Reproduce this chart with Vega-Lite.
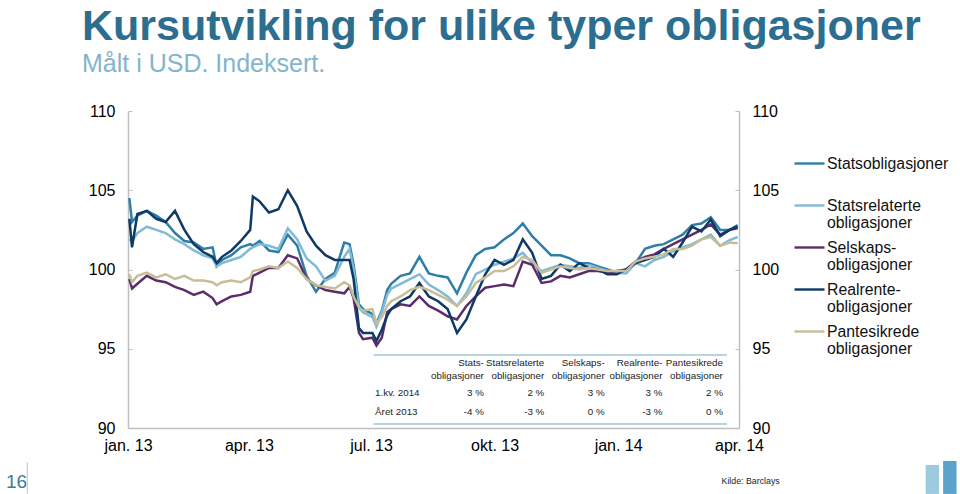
{
  "$schema": "https://vega.github.io/schema/vega-lite/v6.json",
  "width": 611,
  "height": 317,
  "autosize": {"type": "none"},
  "padding": {"left": 128, "top": 111, "right": 221, "bottom": 66},
  "background": "white",
  "config": {
    "font": "Liberation Sans",
    "view": {"stroke": null},
    "axis": {"grid": false, "labelFont": "Liberation Sans", "labelColor": "#000000", "labelFontSize": 16, "title": null}
  },
  "title": {
    "text": "Kursutvikling for ulike typer obligasjoner",
    "subtitle": "Målt i USD. Indeksert.",
    "anchor": "start",
    "frame": "group",
    "dx": -46,
    "offset": 26,
    "font": "Liberation Sans",
    "fontSize": 43,
    "fontWeight": "bold",
    "color": "#2C6E8F",
    "subtitleFont": "Liberation Sans",
    "subtitleFontSize": 25,
    "subtitleColor": "#82B5CB",
    "subtitlePadding": 3
  },
  "datasets": {
    "kurs": [
      {"d": "2013-01-02", "Statsobligasjoner": 104.5, "Statsrelaterte obligasjoner": 101.9, "Selskapsobligasjoner": 99.4, "Realrenteobligasjoner": 103.2, "Pantesikrede obligasjoner": 99.7},
      {"d": "2013-01-04", "Statsobligasjoner": 103.0, "Statsrelaterte obligasjoner": 101.8, "Selskapsobligasjoner": 98.8, "Realrenteobligasjoner": 101.4, "Pantesikrede obligasjoner": 99.2},
      {"d": "2013-01-08", "Statsobligasjoner": 103.4, "Statsrelaterte obligasjoner": 102.3, "Selskapsobligasjoner": 99.1, "Realrenteobligasjoner": 103.5, "Pantesikrede obligasjoner": 99.6},
      {"d": "2013-01-15", "Statsobligasjoner": 103.7, "Statsrelaterte obligasjoner": 102.7, "Selskapsobligasjoner": 99.6, "Realrenteobligasjoner": 103.7, "Pantesikrede obligasjoner": 99.8},
      {"d": "2013-01-22", "Statsobligasjoner": 103.4, "Statsrelaterte obligasjoner": 102.5, "Selskapsobligasjoner": 99.3, "Realrenteobligasjoner": 103.2, "Pantesikrede obligasjoner": 99.5},
      {"d": "2013-01-29", "Statsobligasjoner": 103.0, "Statsrelaterte obligasjoner": 102.3, "Selskapsobligasjoner": 99.2, "Realrenteobligasjoner": 103.0, "Pantesikrede obligasjoner": 99.7},
      {"d": "2013-02-05", "Statsobligasjoner": 102.3, "Statsrelaterte obligasjoner": 101.9, "Selskapsobligasjoner": 98.9, "Realrenteobligasjoner": 103.7, "Pantesikrede obligasjoner": 99.4},
      {"d": "2013-02-12", "Statsobligasjoner": 101.8, "Statsrelaterte obligasjoner": 101.6, "Selskapsobligasjoner": 98.7, "Realrenteobligasjoner": 102.5, "Pantesikrede obligasjoner": 99.6},
      {"d": "2013-02-19", "Statsobligasjoner": 101.7, "Statsrelaterte obligasjoner": 101.2, "Selskapsobligasjoner": 98.4, "Realrenteobligasjoner": 101.6, "Pantesikrede obligasjoner": 99.3},
      {"d": "2013-02-26", "Statsobligasjoner": 101.3, "Statsrelaterte obligasjoner": 100.9, "Selskapsobligasjoner": 98.6, "Realrenteobligasjoner": 101.1, "Pantesikrede obligasjoner": 99.3},
      {"d": "2013-03-05", "Statsobligasjoner": 101.4, "Statsrelaterte obligasjoner": 100.7, "Selskapsobligasjoner": 98.2, "Realrenteobligasjoner": 100.8, "Pantesikrede obligasjoner": 99.2},
      {"d": "2013-03-08", "Statsobligasjoner": 100.2, "Statsrelaterte obligasjoner": 100.2, "Selskapsobligasjoner": 97.8, "Realrenteobligasjoner": 100.4, "Pantesikrede obligasjoner": 99.0},
      {"d": "2013-03-12", "Statsobligasjoner": 100.6, "Statsrelaterte obligasjoner": 100.4, "Selskapsobligasjoner": 98.0, "Realrenteobligasjoner": 100.8, "Pantesikrede obligasjoner": 99.2},
      {"d": "2013-03-19", "Statsobligasjoner": 100.9, "Statsrelaterte obligasjoner": 100.6, "Selskapsobligasjoner": 98.3, "Realrenteobligasjoner": 101.2, "Pantesikrede obligasjoner": 99.3},
      {"d": "2013-03-26", "Statsobligasjoner": 101.4, "Statsrelaterte obligasjoner": 100.8, "Selskapsobligasjoner": 98.4, "Realrenteobligasjoner": 101.8, "Pantesikrede obligasjoner": 99.2},
      {"d": "2013-04-02", "Statsobligasjoner": 101.6, "Statsrelaterte obligasjoner": 101.3, "Selskapsobligasjoner": 98.6, "Realrenteobligasjoner": 102.5, "Pantesikrede obligasjoner": 99.5},
      {"d": "2013-04-04", "Statsobligasjoner": 101.5, "Statsrelaterte obligasjoner": 101.4, "Selskapsobligasjoner": 99.6, "Realrenteobligasjoner": 104.6, "Pantesikrede obligasjoner": 99.9},
      {"d": "2013-04-09", "Statsobligasjoner": 101.8, "Statsrelaterte obligasjoner": 101.6, "Selskapsobligasjoner": 99.8, "Realrenteobligasjoner": 104.3, "Pantesikrede obligasjoner": 100.0},
      {"d": "2013-04-16", "Statsobligasjoner": 101.2, "Statsrelaterte obligasjoner": 101.5, "Selskapsobligasjoner": 100.1, "Realrenteobligasjoner": 103.6, "Pantesikrede obligasjoner": 100.2},
      {"d": "2013-04-23", "Statsobligasjoner": 101.1, "Statsrelaterte obligasjoner": 101.3, "Selskapsobligasjoner": 100.1, "Realrenteobligasjoner": 103.8, "Pantesikrede obligasjoner": 100.1},
      {"d": "2013-04-30", "Statsobligasjoner": 102.2, "Statsrelaterte obligasjoner": 102.6, "Selskapsobligasjoner": 100.9, "Realrenteobligasjoner": 105.0, "Pantesikrede obligasjoner": 100.5},
      {"d": "2013-05-07", "Statsobligasjoner": 101.5, "Statsrelaterte obligasjoner": 101.9, "Selskapsobligasjoner": 100.7, "Realrenteobligasjoner": 104.0, "Pantesikrede obligasjoner": 100.1},
      {"d": "2013-05-14", "Statsobligasjoner": 99.6, "Statsrelaterte obligasjoner": 100.7, "Selskapsobligasjoner": 99.4, "Realrenteobligasjoner": 102.4, "Pantesikrede obligasjoner": 99.4},
      {"d": "2013-05-21", "Statsobligasjoner": 98.6, "Statsrelaterte obligasjoner": 100.2, "Selskapsobligasjoner": 99.0, "Realrenteobligasjoner": 101.5, "Pantesikrede obligasjoner": 99.0},
      {"d": "2013-05-28", "Statsobligasjoner": 99.4, "Statsrelaterte obligasjoner": 99.3, "Selskapsobligasjoner": 98.7, "Realrenteobligasjoner": 100.9, "Pantesikrede obligasjoner": 98.9},
      {"d": "2013-06-04", "Statsobligasjoner": 99.8, "Statsrelaterte obligasjoner": 99.6, "Selskapsobligasjoner": 98.6, "Realrenteobligasjoner": 100.6, "Pantesikrede obligasjoner": 98.8},
      {"d": "2013-06-11", "Statsobligasjoner": 101.7, "Statsrelaterte obligasjoner": 100.8, "Selskapsobligasjoner": 98.5, "Realrenteobligasjoner": 100.6, "Pantesikrede obligasjoner": 99.2},
      {"d": "2013-06-15", "Statsobligasjoner": 101.6, "Statsrelaterte obligasjoner": 101.3, "Selskapsobligasjoner": 98.9, "Realrenteobligasjoner": 100.6, "Pantesikrede obligasjoner": 99.0},
      {"d": "2013-06-18", "Statsobligasjoner": 100.3, "Statsrelaterte obligasjoner": 100.0, "Selskapsobligasjoner": 98.2, "Realrenteobligasjoner": 99.4, "Pantesikrede obligasjoner": 98.3},
      {"d": "2013-06-22", "Statsobligasjoner": 97.8, "Statsrelaterte obligasjoner": 97.6, "Selskapsobligasjoner": 96.0, "Realrenteobligasjoner": 96.3, "Pantesikrede obligasjoner": 97.6},
      {"d": "2013-06-25", "Statsobligasjoner": 97.5, "Statsrelaterte obligasjoner": 97.3, "Selskapsobligasjoner": 95.6, "Realrenteobligasjoner": 96.0, "Pantesikrede obligasjoner": 97.4},
      {"d": "2013-07-02", "Statsobligasjoner": 97.2, "Statsrelaterte obligasjoner": 97.0, "Selskapsobligasjoner": 95.7, "Realrenteobligasjoner": 96.0, "Pantesikrede obligasjoner": 97.5},
      {"d": "2013-07-05", "Statsobligasjoner": 96.6, "Statsrelaterte obligasjoner": 96.4, "Selskapsobligasjoner": 95.2, "Realrenteobligasjoner": 95.5, "Pantesikrede obligasjoner": 96.6},
      {"d": "2013-07-09", "Statsobligasjoner": 97.4, "Statsrelaterte obligasjoner": 97.3, "Selskapsobligasjoner": 95.7, "Realrenteobligasjoner": 96.2, "Pantesikrede obligasjoner": 97.0},
      {"d": "2013-07-13", "Statsobligasjoner": 98.7, "Statsrelaterte obligasjoner": 98.4, "Selskapsobligasjoner": 97.3, "Realrenteobligasjoner": 97.1, "Pantesikrede obligasjoner": 97.7},
      {"d": "2013-07-16", "Statsobligasjoner": 99.1, "Statsrelaterte obligasjoner": 98.8, "Selskapsobligasjoner": 97.5, "Realrenteobligasjoner": 97.5, "Pantesikrede obligasjoner": 98.0},
      {"d": "2013-07-23", "Statsobligasjoner": 99.6, "Statsrelaterte obligasjoner": 99.1, "Selskapsobligasjoner": 97.8, "Realrenteobligasjoner": 98.0, "Pantesikrede obligasjoner": 98.3},
      {"d": "2013-07-30", "Statsobligasjoner": 99.75, "Statsrelaterte obligasjoner": 99.4, "Selskapsobligasjoner": 97.7, "Realrenteobligasjoner": 98.3, "Pantesikrede obligasjoner": 98.7},
      {"d": "2013-08-06", "Statsobligasjoner": 100.8, "Statsrelaterte obligasjoner": 99.7, "Selskapsobligasjoner": 98.3, "Realrenteobligasjoner": 99.15, "Pantesikrede obligasjoner": 98.9},
      {"d": "2013-08-13", "Statsobligasjoner": 99.75, "Statsrelaterte obligasjoner": 99.05, "Selskapsobligasjoner": 97.7, "Realrenteobligasjoner": 98.3, "Pantesikrede obligasjoner": 98.7},
      {"d": "2013-08-20", "Statsobligasjoner": 99.6, "Statsrelaterte obligasjoner": 98.7, "Selskapsobligasjoner": 97.4, "Realrenteobligasjoner": 98.0, "Pantesikrede obligasjoner": 98.4},
      {"d": "2013-08-27", "Statsobligasjoner": 99.5, "Statsrelaterte obligasjoner": 98.3, "Selskapsobligasjoner": 97.05, "Realrenteobligasjoner": 97.5, "Pantesikrede obligasjoner": 98.1},
      {"d": "2013-09-03", "Statsobligasjoner": 98.5, "Statsrelaterte obligasjoner": 97.7, "Selskapsobligasjoner": 96.85, "Realrenteobligasjoner": 96.0, "Pantesikrede obligasjoner": 97.7},
      {"d": "2013-09-10", "Statsobligasjoner": 99.8, "Statsrelaterte obligasjoner": 98.5, "Selskapsobligasjoner": 97.7, "Realrenteobligasjoner": 96.85, "Pantesikrede obligasjoner": 98.3},
      {"d": "2013-09-17", "Statsobligasjoner": 100.9, "Statsrelaterte obligasjoner": 99.7, "Selskapsobligasjoner": 98.3, "Realrenteobligasjoner": 98.3, "Pantesikrede obligasjoner": 99.15},
      {"d": "2013-09-24", "Statsobligasjoner": 101.3, "Statsrelaterte obligasjoner": 100.0, "Selskapsobligasjoner": 98.85, "Realrenteobligasjoner": 99.7, "Pantesikrede obligasjoner": 99.5},
      {"d": "2013-10-01", "Statsobligasjoner": 101.4, "Statsrelaterte obligasjoner": 100.3, "Selskapsobligasjoner": 98.95, "Realrenteobligasjoner": 100.6, "Pantesikrede obligasjoner": 99.9},
      {"d": "2013-10-08", "Statsobligasjoner": 101.9, "Statsrelaterte obligasjoner": 100.5, "Selskapsobligasjoner": 99.05, "Realrenteobligasjoner": 100.3, "Pantesikrede obligasjoner": 99.9},
      {"d": "2013-10-15", "Statsobligasjoner": 102.3, "Statsrelaterte obligasjoner": 100.7, "Selskapsobligasjoner": 98.95, "Realrenteobligasjoner": 100.6, "Pantesikrede obligasjoner": 100.2},
      {"d": "2013-10-22", "Statsobligasjoner": 102.9, "Statsrelaterte obligasjoner": 101.05, "Selskapsobligasjoner": 100.5, "Realrenteobligasjoner": 101.9, "Pantesikrede obligasjoner": 100.8},
      {"d": "2013-10-29", "Statsobligasjoner": 102.1, "Statsrelaterte obligasjoner": 100.4, "Selskapsobligasjoner": 100.3, "Realrenteobligasjoner": 101.05, "Pantesikrede obligasjoner": 100.6},
      {"d": "2013-11-05", "Statsobligasjoner": 101.5, "Statsrelaterte obligasjoner": 99.9, "Selskapsobligasjoner": 99.15, "Realrenteobligasjoner": 99.4, "Pantesikrede obligasjoner": 99.8},
      {"d": "2013-11-12", "Statsobligasjoner": 100.9, "Statsrelaterte obligasjoner": 100.1, "Selskapsobligasjoner": 99.25, "Realrenteobligasjoner": 99.6, "Pantesikrede obligasjoner": 100.0},
      {"d": "2013-11-19", "Statsobligasjoner": 100.9, "Statsrelaterte obligasjoner": 100.3, "Selskapsobligasjoner": 99.6, "Realrenteobligasjoner": 100.3, "Pantesikrede obligasjoner": 100.2},
      {"d": "2013-11-26", "Statsobligasjoner": 100.7, "Statsrelaterte obligasjoner": 100.2, "Selskapsobligasjoner": 99.5, "Realrenteobligasjoner": 99.9, "Pantesikrede obligasjoner": 100.1},
      {"d": "2013-12-03", "Statsobligasjoner": 100.4, "Statsrelaterte obligasjoner": 100.1, "Selskapsobligasjoner": 99.7, "Realrenteobligasjoner": 100.4, "Pantesikrede obligasjoner": 100.0},
      {"d": "2013-12-10", "Statsobligasjoner": 100.4, "Statsrelaterte obligasjoner": 100.3, "Selskapsobligasjoner": 99.9, "Realrenteobligasjoner": 100.1, "Pantesikrede obligasjoner": 100.1},
      {"d": "2013-12-17", "Statsobligasjoner": 100.2, "Statsrelaterte obligasjoner": 100.1, "Selskapsobligasjoner": 99.9, "Realrenteobligasjoner": 100.0, "Pantesikrede obligasjoner": 100.0},
      {"d": "2013-12-24", "Statsobligasjoner": 100.0, "Statsrelaterte obligasjoner": 99.9, "Selskapsobligasjoner": 99.8, "Realrenteobligasjoner": 99.7, "Pantesikrede obligasjoner": 99.9},
      {"d": "2013-12-31", "Statsobligasjoner": 99.8, "Statsrelaterte obligasjoner": 99.8, "Selskapsobligasjoner": 99.9, "Realrenteobligasjoner": 99.7, "Pantesikrede obligasjoner": 99.9},
      {"d": "2014-01-07", "Statsobligasjoner": 100.0, "Statsrelaterte obligasjoner": 99.75, "Selskapsobligasjoner": 100.0, "Realrenteobligasjoner": 100.0, "Pantesikrede obligasjoner": 99.9},
      {"d": "2014-01-14", "Statsobligasjoner": 100.4, "Statsrelaterte obligasjoner": 100.4, "Selskapsobligasjoner": 100.5, "Realrenteobligasjoner": 100.4, "Pantesikrede obligasjoner": 100.5},
      {"d": "2014-01-21", "Statsobligasjoner": 101.3, "Statsrelaterte obligasjoner": 100.2, "Selskapsobligasjoner": 100.8, "Realrenteobligasjoner": 100.6, "Pantesikrede obligasjoner": 100.7},
      {"d": "2014-01-28", "Statsobligasjoner": 101.5, "Statsrelaterte obligasjoner": 100.6, "Selskapsobligasjoner": 100.95, "Realrenteobligasjoner": 100.8, "Pantesikrede obligasjoner": 100.8},
      {"d": "2014-02-04", "Statsobligasjoner": 101.6, "Statsrelaterte obligasjoner": 100.8, "Selskapsobligasjoner": 101.3, "Realrenteobligasjoner": 101.3, "Pantesikrede obligasjoner": 100.95},
      {"d": "2014-02-11", "Statsobligasjoner": 101.9, "Statsrelaterte obligasjoner": 101.15, "Selskapsobligasjoner": 101.6, "Realrenteobligasjoner": 100.8, "Pantesikrede obligasjoner": 101.3},
      {"d": "2014-02-18", "Statsobligasjoner": 102.2, "Statsrelaterte obligasjoner": 101.4, "Selskapsobligasjoner": 101.9, "Realrenteobligasjoner": 101.7, "Pantesikrede obligasjoner": 101.3},
      {"d": "2014-02-25", "Statsobligasjoner": 102.8, "Statsrelaterte obligasjoner": 101.6, "Selskapsobligasjoner": 102.2, "Realrenteobligasjoner": 102.7, "Pantesikrede obligasjoner": 101.5},
      {"d": "2014-03-04", "Statsobligasjoner": 102.9, "Statsrelaterte obligasjoner": 101.9, "Selskapsobligasjoner": 102.5, "Realrenteobligasjoner": 102.4, "Pantesikrede obligasjoner": 101.9},
      {"d": "2014-03-11", "Statsobligasjoner": 103.3, "Statsrelaterte obligasjoner": 102.2, "Selskapsobligasjoner": 102.85, "Realrenteobligasjoner": 103.15, "Pantesikrede obligasjoner": 102.05},
      {"d": "2014-03-18", "Statsobligasjoner": 102.5, "Statsrelaterte obligasjoner": 101.5, "Selskapsobligasjoner": 102.2, "Realrenteobligasjoner": 102.1, "Pantesikrede obligasjoner": 101.5},
      {"d": "2014-03-25", "Statsobligasjoner": 102.5, "Statsrelaterte obligasjoner": 101.85, "Selskapsobligasjoner": 102.5, "Realrenteobligasjoner": 102.5, "Pantesikrede obligasjoner": 101.7},
      {"d": "2014-03-31", "Statsobligasjoner": 102.8, "Statsrelaterte obligasjoner": 102.05, "Selskapsobligasjoner": 102.6, "Realrenteobligasjoner": 102.7, "Pantesikrede obligasjoner": 101.65}
    ],
    "tabellLinjer": [
      {"d1": "2013-07-03", "d2": "2014-03-23", "v": 94.6},
      {"d1": "2013-07-03", "d2": "2014-03-23", "v": 90.25}
    ],
    "radnavn": [
      {"d": "2013-07-04", "v": 92.2, "t": "1.kv. 2014"},
      {"d": "2013-07-04", "v": 91.0, "t": "Året 2013"}
    ],
    "celler": [
      {"d": "2013-09-23", "v": 94.07, "t": "Stats-"},
      {"d": "2013-11-07", "v": 94.07, "t": "Statsrelaterte"},
      {"d": "2013-12-22", "v": 94.07, "t": "Selskaps-"},
      {"d": "2014-02-03", "v": 94.07, "t": "Realrente-"},
      {"d": "2014-03-20", "v": 94.07, "t": "Pantesikrede"},
      {"d": "2013-09-23", "v": 93.31, "t": "obligasjoner"},
      {"d": "2013-11-07", "v": 93.31, "t": "obligasjoner"},
      {"d": "2013-12-22", "v": 93.31, "t": "obligasjoner"},
      {"d": "2014-02-03", "v": 93.31, "t": "obligasjoner"},
      {"d": "2014-03-20", "v": 93.31, "t": "obligasjoner"},
      {"d": "2013-09-23", "v": 92.2, "t": "3 %"},
      {"d": "2013-11-07", "v": 92.2, "t": "2 %"},
      {"d": "2013-12-22", "v": 92.2, "t": "3 %"},
      {"d": "2014-02-03", "v": 92.2, "t": "3 %"},
      {"d": "2014-03-20", "v": 92.2, "t": "2 %"},
      {"d": "2013-09-23", "v": 91.0, "t": "-4 %"},
      {"d": "2013-11-07", "v": 91.0, "t": "-3 %"},
      {"d": "2013-12-22", "v": 91.0, "t": "0 %"},
      {"d": "2014-02-03", "v": 91.0, "t": "-3 %"},
      {"d": "2014-03-20", "v": 91.0, "t": "0 %"}
    ],
    "sidetall": [{"d": "2012-10-10", "v": 86.6, "t": "16"}],
    "skille": [{"d": "2012-10-18", "v1": 87.85, "v2": 85.85}],
    "kilde": [{"d": "2014-03-19", "v": 86.66, "t": "Kilde: Barclays"}],
    "logoVenstre": [{"d1": "2014-08-18", "d2": "2014-08-28", "v1": 87.67, "v2": 85.84}],
    "logoHoyre": [{"d1": "2014-08-31", "d2": "2014-09-10", "v1": 87.92, "v2": 85.84}]
  },
  "resolve": {"scale": {"y": "independent"}},
  "layer": [
    {
      "data": {"name": "kurs"},
      "transform": [
        {"fold": ["Statsobligasjoner", "Statsrelaterte obligasjoner", "Selskapsobligasjoner", "Realrenteobligasjoner", "Pantesikrede obligasjoner"], "as": ["serie", "verdi"]}
      ],
      "mark": {"type": "line", "strokeWidth": 2.5},
      "encoding": {
        "x": {
          "field": "d", "type": "temporal", "title": null,
          "scale": {"type": "utc", "domain": [{"year": 2013, "month": 1, "date": 1, "utc": true}, {"year": 2014, "month": 4, "date": 1, "utc": true}]},
          "axis": {
            "values": [
              {"year": 2013, "month": 1, "date": 1, "utc": true},
              {"year": 2013, "month": 4, "date": 1, "utc": true},
              {"year": 2013, "month": 7, "date": 1, "utc": true},
              {"year": 2013, "month": 10, "date": 1, "utc": true},
              {"year": 2014, "month": 1, "date": 1, "utc": true},
              {"year": 2014, "month": 4, "date": 1, "utc": true}
            ],
            "labelExpr": "(utcmonth(datum.value)==0?'jan. ':utcmonth(datum.value)==3?'apr. ':utcmonth(datum.value)==6?'jul. ':'okt. ') + utcFormat(datum.value,'%y')",
            "ticks": false,
            "domainColor": "#BFBFBF",
            "domainWidth": 1.5,
            "labelPadding": 9,
            "labelFlush": false,
            "labelOverlap": false
          }
        },
        "y": {
          "field": "verdi", "type": "quantitative", "title": null,
          "scale": {"domain": [90, 110], "nice": false, "zero": false},
          "axis": {"orient": "left", "values": [90, 95, 100, 105, 110], "domainColor": "#BFBFBF", "domainWidth": 1.5, "tickColor": "#BFBFBF", "tickSize": -4, "labelPadding": 17}
        },
        "color": {
          "field": "serie", "type": "nominal", "title": null,
          "scale": {
            "domain": ["Statsobligasjoner", "Statsrelaterte obligasjoner", "Selskapsobligasjoner", "Realrenteobligasjoner", "Pantesikrede obligasjoner"],
            "range": ["#2F7EA6", "#80BAD6", "#5C2D6B", "#0E3A66", "#C7BD99"]
          },
          "legend": {
            "orient": "none",
            "legendX": 665,
            "legendY": 36,
            "symbolType": "stroke",
            "symbolSize": 900,
            "symbolStrokeWidth": 2.4,
            "labelFont": "Liberation Sans",
            "labelFontSize": 15.8,
            "labelColor": "#111111",
            "labelOffset": 1,
            "labelLimit": 300,
            "rowPadding": 0,
            "labelExpr": "datum.label=='Statsobligasjoner'?['Statsobligasjoner',' ']:datum.label=='Statsrelaterte obligasjoner'?['Statsrelaterte','obligasjoner']:datum.label=='Selskapsobligasjoner'?['Selskaps-','obligasjoner']:datum.label=='Realrenteobligasjoner'?['Realrente-','obligasjoner']:['Pantesikrede','obligasjoner']",
            "encode": {"labels": {"update": {"lineHeight": {"value": 17.2}}}}
          }
        }
      }
    },
    {
      "data": {"name": "tabellLinjer"},
      "mark": {"type": "rule", "color": "#9EC6D8", "strokeWidth": 1.5},
      "encoding": {
        "x": {"field": "d1", "type": "temporal", "title": null},
        "x2": {"field": "d2"},
        "y": {
          "field": "v", "type": "quantitative", "title": null,
          "scale": {"domain": [90, 110], "nice": false, "zero": false},
          "axis": {"orient": "right", "values": [90, 95, 100, 105, 110], "domainColor": "#BFBFBF", "domainWidth": 1.5, "tickColor": "#BFBFBF", "tickSize": -4, "labelPadding": 17}
        }
      }
    },
    {
      "data": {"name": "radnavn"},
      "mark": {"type": "text", "align": "left", "baseline": "middle", "fontSize": 9.8, "color": "#222222"},
      "encoding": {
        "x": {"field": "d", "type": "temporal", "title": null},
        "y": {"field": "v", "type": "quantitative", "title": null, "scale": {"domain": [90, 110], "nice": false, "zero": false}, "axis": null},
        "text": {"field": "t"}
      }
    },
    {
      "data": {"name": "celler"},
      "mark": {"type": "text", "align": "right", "baseline": "middle", "fontSize": 9.8, "color": "#222222"},
      "encoding": {
        "x": {"field": "d", "type": "temporal", "title": null},
        "y": {"field": "v", "type": "quantitative", "title": null, "scale": {"domain": [90, 110], "nice": false, "zero": false}, "axis": null},
        "text": {"field": "t"}
      }
    },
    {
      "data": {"name": "sidetall"},
      "mark": {"type": "text", "align": "center", "baseline": "middle", "fontSize": 19, "color": "#3A7D9E"},
      "encoding": {
        "x": {"field": "d", "type": "temporal", "title": null},
        "y": {"field": "v", "type": "quantitative", "title": null, "scale": {"domain": [90, 110], "nice": false, "zero": false}, "axis": null},
        "text": {"field": "t"}
      }
    },
    {
      "data": {"name": "skille"},
      "mark": {"type": "rule", "color": "#A9C9D9", "strokeWidth": 1},
      "encoding": {
        "x": {"field": "d", "type": "temporal", "title": null},
        "y": {"field": "v1", "type": "quantitative", "title": null, "scale": {"domain": [90, 110], "nice": false, "zero": false}, "axis": null},
        "y2": {"field": "v2"}
      }
    },
    {
      "data": {"name": "kilde"},
      "mark": {"type": "text", "align": "left", "baseline": "middle", "fontSize": 8.8, "color": "#222222"},
      "encoding": {
        "x": {"field": "d", "type": "temporal", "title": null},
        "y": {"field": "v", "type": "quantitative", "title": null, "scale": {"domain": [90, 110], "nice": false, "zero": false}, "axis": null},
        "text": {"field": "t"}
      }
    },
    {
      "data": {"name": "logoVenstre"},
      "mark": {"type": "rect", "color": "#9CCBE0"},
      "encoding": {
        "x": {"field": "d1", "type": "temporal", "title": null},
        "x2": {"field": "d2"},
        "y": {"field": "v1", "type": "quantitative", "title": null, "scale": {"domain": [90, 110], "nice": false, "zero": false}, "axis": null},
        "y2": {"field": "v2"}
      }
    },
    {
      "data": {"name": "logoHoyre"},
      "mark": {"type": "rect", "color": "#5AA3CA"},
      "encoding": {
        "x": {"field": "d1", "type": "temporal", "title": null},
        "x2": {"field": "d2"},
        "y": {"field": "v1", "type": "quantitative", "title": null, "scale": {"domain": [90, 110], "nice": false, "zero": false}, "axis": null},
        "y2": {"field": "v2"}
      }
    }
  ]
}
